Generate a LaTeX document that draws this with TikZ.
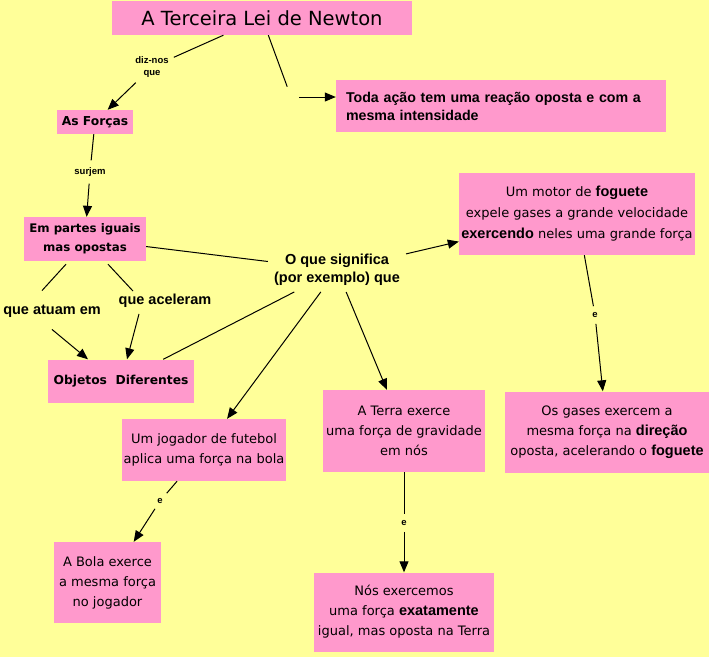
\documentclass[tikz,border=0pt]{standalone}
\usepackage{fontspec}
\setmainfont{DejaVu Sans}
\newfontfamily\arialfont{Liberation Sans}
\usetikzlibrary{arrows.meta}
\definecolor{fundoAmarelo}{HTML}{FFFF99}
\definecolor{caixaRosa}{HTML}{FF99CC}
\newcommand{\negrito}[1]{{\arialfont\bfseries\fontsize{14.5}{20}\selectfont #1}}
\tikzset{
  caixa/.style={fill=caixaRosa, align=center, inner sep=0pt, font=\fontsize{13}{20}\selectfont},
  caixanegra/.style={caixa, font=\bfseries\fontsize{12.3}{19}\selectfont},
  rotulo/.style={align=center, inner sep=3pt, font=\arialfont\bfseries\fontsize{14.5}{18}\selectfont},
  rotulopeq/.style={align=center, inner sep=5pt, font=\arialfont\bfseries\fontsize{9.5}{12}\selectfont},
  linha/.style={line width=1pt},
  seta/.style={linha, -{Triangle[length=11pt,width=9pt]}}
}
\begin{document}
\begin{tikzpicture}[x=1pt,y=-1pt]
\fill[fundoAmarelo] (0,0) rectangle (709,657);
\useasboundingbox (0,0) rectangle (709,657);

% caixas
\node[caixa, minimum width=300pt, minimum height=34pt, font=\fontsize{19.5}{22}\selectfont] (titulo) at (262,18) {A Terceira Lei de Newton};
\node[fill=caixaRosa, align=left, text width=310pt, inner xsep=10pt, minimum height=52pt, font=\arialfont\bfseries\fontsize{14.2}{18}\selectfont] (toda) at (501,106) {Toda ação tem uma reação oposta e com a\\mesma intensidade};
\node[caixanegra, minimum width=76pt, minimum height=24pt] (forcas) at (95,122) {As Forças};
\node[caixanegra, minimum width=122pt, minimum height=44pt, font=\bfseries\fontsize{11.8}{19}\selectfont] (partes) at (85,239) {Em partes iguais\\mas opostas};
\node[caixanegra, minimum width=146pt, minimum height=43pt] (objetos) at (121,381) {Objetos\ \ Diferentes};
\node[caixa, minimum width=236pt, minimum height=82pt, font=\fontsize{13}{21}\selectfont] (motor) at (577,214) {Um motor de \negrito{foguete}\\expele gases a grande velocidade\\\negrito{exercendo} neles uma grande força};
\node[caixa, minimum width=204pt, minimum height=81pt] (gases) at (607,432) {Os gases exercem a\\mesma força na \negrito{direção}\\oposta, acelerando o \negrito{foguete}};
\node[caixa, minimum width=164pt, minimum height=62pt] (jogador) at (204,450) {Um jogador de futebol\\aplica uma força na bola};
\node[caixa, minimum width=107pt, minimum height=81pt] (bola) at (107.5,582.5) {A Bola exerce\\a mesma força\\no jogador};
\node[caixa, minimum width=162pt, minimum height=82pt] (terra) at (404,431) {A Terra exerce\\uma força de gravidade\\em nós};
\node[caixa, minimum width=180pt, minimum height=79pt] (nos) at (404,612) {Nós exercemos\\uma força \negrito{exatamente}\\igual, mas oposta na Terra};

% rotulos
\node[rotulopeq] (diz) at (152,67) {diz-nos\\que};
\node[rotulopeq, inner sep=7pt] (surjem) at (90,172) {surjem};
\node[rotulo] (atuam) at (52,311) {que atuam em};
\node[rotulo] (aceleram) at (165,301) {que aceleram};
\node[rotulo, inner sep=6pt] (significa) at (337,270) {O que significa\\(por exemplo) que};
\node[rotulopeq, inner sep=6pt] (e1) at (595,315) {e};
\node[rotulopeq] (e2) at (160,501) {e};
\node[rotulopeq, inner sep=6pt] (e3) at (404,523) {e};
\coordinate (j1) at (291,97);

% ligacoes
\draw[linha] (titulo) -- (diz);
\draw[seta] (diz) -- (forcas);
\draw[linha, shorten >=11pt] (titulo) -- (j1);
\draw[seta, shorten <=8pt] (j1) -- (toda.west |- j1);
\draw[linha] (forcas) -- (surjem);
\draw[seta] (surjem) -- (partes);
\draw[linha] ([xshift=-19pt,yshift=-3pt]partes.south) -- ([xshift=-10pt,yshift=11pt]atuam.north);
\draw[seta] ([yshift=-9pt]atuam.south) -- ([xshift=-33pt]objetos.north);
\draw[linha] ([xshift=23pt,yshift=-3pt]partes.south) -- ([xshift=-32pt]aceleram.north);
\draw[seta] ([xshift=-26pt,yshift=-3pt]aceleram.south) -- ([xshift=6pt]objetos.north);
\draw[linha] (partes) -- (significa);
\draw[linha] (objetos) -- (significa);
\draw[seta] (significa) -- (motor);
\draw[seta] (significa) -- (jogador);
\draw[seta] (significa) -- (terra);
\draw[linha] (motor) -- (e1);
\draw[seta] (e1) -- (gases);
\draw[linha] (jogador) -- (e2);
\draw[seta] (e2) -- (bola);
\draw[linha] (terra) -- (e3);
\draw[seta] (e3) -- (nos);
\end{tikzpicture}
\end{document}
